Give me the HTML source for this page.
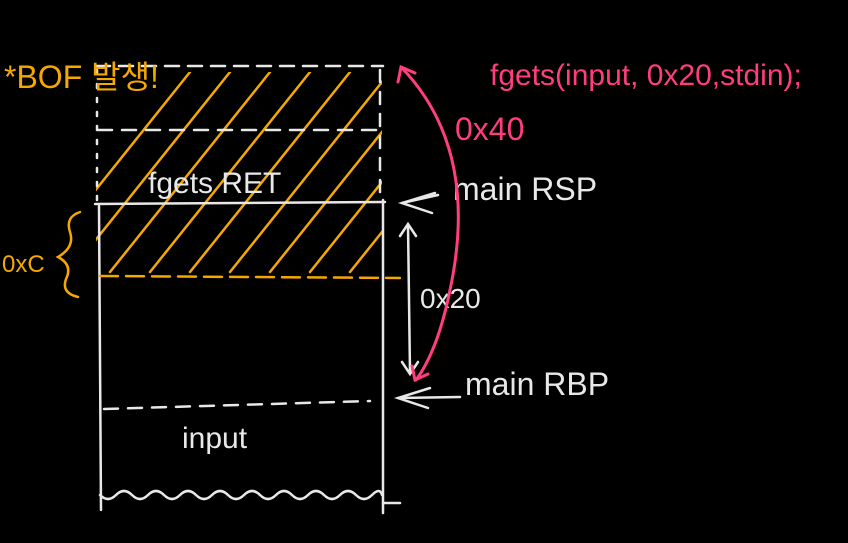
<!DOCTYPE html>
<html><head><meta charset="utf-8"><style>
html,body{margin:0;padding:0;background:#000;width:848px;height:543px;overflow:hidden}
svg{display:block}
text{font-family:"Liberation Sans","Noto Sans CJK KR",sans-serif}
</style></head><body>
<svg width="848" height="543" viewBox="0 0 848 543">
<defs><clipPath id="hc"><rect x="96" y="72" width="286" height="202"/></clipPath></defs>
<rect width="848" height="543" fill="#000"/>
<g stroke="#f5a800" stroke-width="2.5" fill="none" stroke-linecap="round" clip-path="url(#hc)" id="hatch"></g>
<g stroke="#e8e8e8" stroke-width="2.5" fill="none" stroke-linecap="round">
  <line x1="96" y1="66" x2="383" y2="66" stroke-dasharray="14 9"/>
  <line x1="98" y1="130" x2="380" y2="130" stroke-dasharray="14 10"/>
  <line x1="97" y1="70" x2="97" y2="200" stroke-dasharray="4 10"/>
  <line x1="380" y1="70" x2="380" y2="198" stroke-dasharray="12 10"/>
  <line x1="95" y1="204" x2="385" y2="202"/>
  <line x1="99" y1="206" x2="101" y2="510"/>
  <line x1="383" y1="200" x2="383" y2="513"/>
  <line x1="104" y1="409" x2="370" y2="401" stroke-dasharray="14 10"/>
  <path d="M100 495 q8 8 16 0 q8 -8 16 0 q8 8 16 0 q8 -8 16 0 q8 8 16 0 q8 -8 16 0 q8 8 16 0 q8 -8 16 0 q8 8 16 0 q8 -8 16 0 q8 8 16 0 q8 -8 16 0 q8 8 16 0 q8 -8 16 0 q8 8 16 0 q8 -8 16 0 q8 8 16 0 q8 -8 10 0"/>
  <line x1="383" y1="503" x2="400" y2="503"/>
</g>
<g stroke="#f5a800" stroke-width="2.5" fill="none" stroke-linecap="round">
  <line x1="100" y1="276" x2="400" y2="278" stroke-dasharray="18 8"/>
  <path d="M80 212 q-15 5 -10 20 q5 15 -12 25 q15 8 8 22 q-5 14 12 18"/>
</g>
<text x="4" y="88" fill="#f5a800" font-size="32">*BOF 발생!</text>
<text x="2" y="272" fill="#f5a800" font-size="24">0xC</text>
<text x="148" y="193" fill="#e8e8e8" font-size="30">fgets RET</text>
<text x="182" y="448" fill="#e8e8e8" font-size="30">input</text>
<text x="453" y="200" fill="#e8e8e8" font-size="32">main RSP</text>
<text x="465" y="395" fill="#e8e8e8" font-size="32">main RBP</text>
<text x="420" y="308" fill="#e8e8e8" font-size="28">0x20</text>
<g stroke="#e8e8e8" stroke-width="2.5" fill="none" stroke-linecap="round">
  <line x1="408" y1="225" x2="410" y2="372"/>
  <path d="M400 236 l8 -12 l8 12"/><path d="M402 362 l8 12 l8 -12"/>
  <path d="M435 193 l-33 10 l30 10" /><line x1="402" y1="203" x2="438" y2="195"/>
  <path d="M430 388 l-32 10 l30 10"/><line x1="398" y1="398" x2="460" y2="397"/>
</g>
<text x="490" y="85" fill="#ff3d7f" font-size="30">fgets(input, 0x20,stdin);</text>
<text x="455" y="140" fill="#ff3d7f" font-size="32">0x40</text>
<g stroke="#ff3d7f" stroke-width="3" fill="none" stroke-linecap="round">
  <path d="M402 68 Q480 150 450 290 Q438 350 416 380"/>
  <path d="M398 82 l3 -15 l14 6"/><path d="M412 366 l3 14 l13 -6"/>
</g>
<script>
const hatchBaseX=[20,60,100,140,180,220,260,300,340,380];
const g=document.getElementById('hatch');
hatchBaseX.forEach(function(x){
  const l=document.createElementNS('http://www.w3.org/2000/svg','line');
  l.setAttribute('x1',x+10);l.setAttribute('y1',272);l.setAttribute('x2',x+170);l.setAttribute('y2',72);
  
  
  g.appendChild(l);
});
</script>
</svg>
</body></html>
